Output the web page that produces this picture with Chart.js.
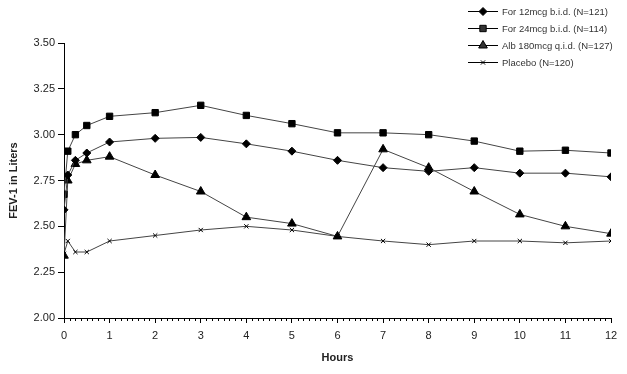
<!DOCTYPE html>
<html>
<head>
<meta charset="utf-8">
<script src="https://cdn.jsdelivr.net/npm/chart.js@4.4.0/dist/chart.umd.min.js"></script>
<style>
  html, body { margin: 0; padding: 0; background: #fff; }
  #wrap { width: 627px; height: 374px; position: relative; }
</style>
</head>
<body>
<div id="wrap"><canvas id="chart"></canvas></div>
<script>
// data
const hours = [0, 0.083, 0.25, 0.5, 1, 2, 3, 4, 5, 6, 7, 8, 9, 10, 11, 12];
const for12 = [2.59, 2.78, 2.86, 2.90, 2.96, 2.98, 2.985, 2.95, 2.91, 2.86, 2.82, 2.80, 2.82, 2.79, 2.79, 2.77];
const for24 = [2.675, 2.91, 3.00, 3.05, 3.10, 3.12, 3.16, 3.105, 3.06, 3.01, 3.01, 3.00, 2.965, 2.91, 2.915, 2.90];
const alb = [2.34, 2.75, 2.84, 2.86, 2.88, 2.78, 2.69, 2.55, 2.515, 2.445, 2.92, 2.82, 2.69, 2.565, 2.50, 2.46];
const placebo = [2.35, 2.42, 2.36, 2.36, 2.42, 2.45, 2.48, 2.50, 2.48, 2.445, 2.42, 2.40, 2.42, 2.42, 2.41, 2.42];

const labels = [
  "For 12mcg b.i.d. (N=121)",
  "For 24mcg b.i.d. (N=114)",
  "Alb 180mcg q.i.d. (N=127)",
  "Placebo (N=120)",
];

const FONT = "'Liberation Sans', Arial, sans-serif";

function pts(ys) {
  return hours.map((h, i) => ({ x: h, y: ys[i] }));
}

function series(label, ys, style, radius) {
  return {
    label: label,
    data: pts(ys),
    borderColor: "#444",
    borderWidth: 1,
    backgroundColor: "#000",
    pointBorderColor: "#000",
    pointBackgroundColor: "#000",
    pointStyle: style,
    pointRadius: radius,
    pointBorderWidth: 1,
    tension: 0,
  };
}

// minor ticks under the x axis
const minorTicks = {
  id: "minorTicks",
  afterDraw(chart) {
    const x = chart.scales.x;
    const ctx = chart.ctx;
    ctx.save();
    ctx.strokeStyle = "#000";
    ctx.lineWidth = 1;
    for (let v = 0; v <= 12; v += 0.125) {
      if (Math.abs(v - Math.round(v)) < 1e-6) continue;
      const px = Math.round(x.getPixelForValue(v)) + 0.5;
      ctx.beginPath();
      ctx.moveTo(px, x.top);
      ctx.lineTo(px, x.top + 3);
      ctx.stroke();
    }
    ctx.restore();
  },
};

// legend with line + marker, top right
const lineLegend = {
  id: "lineLegend",
  afterDraw(chart) {
    const ctx = chart.ctx;
    const x0 = 468, x1 = 498, y0 = 11, dy = 17;
    ctx.save();
    chart.data.datasets.forEach((ds, i) => {
      const y = y0 + i * dy;
      ctx.strokeStyle = "#000";
      ctx.lineWidth = 1;
      ctx.beginPath();
      ctx.moveTo(x0, y + 0.5);
      ctx.lineTo(x1, y + 0.5);
      ctx.stroke();
      Chart.helpers.drawPoint(ctx, {
        pointStyle: ds.pointStyle,
        radius: ds.pointRadius,
        rotation: 0,
        borderWidth: 1,
      }, (x0 + x1) / 2, y + 0.5);
      ctx.fillStyle = "#333";
      ctx.font = "9.5px " + FONT;
      ctx.textBaseline = "middle";
      ctx.fillText(ds.label, x1 + 4, y + 1);
    });
    ctx.restore();
  },
};

new Chart(document.getElementById("chart"), {
  type: "line",
  data: {
    datasets: [
      series(labels[0], for12, "rectRot", 4),
      series(labels[1], for24, "rect", 4.5),
      series(labels[2], alb, "triangle", 5),
      series(labels[3], placebo, "crossRot", 3),
    ],
  },
  options: {
    responsive: true,
    maintainAspectRatio: false,
    animation: false,
    layout: { padding: { top: 43, right: 16, left: 0, bottom: 0 } },
    plugins: {
      legend: { display: false },
      tooltip: { enabled: false },
    },
    scales: {
      x: {
        type: "linear",
        min: 0,
        max: 12,
        afterFit: function (scale) {
          scale.height = 56;
        },
        ticks: {
          stepSize: 1,
          color: "#222",
          padding: 6,
          font: { family: FONT, size: 11 },
          maxRotation: 0,
        },
        grid: {
          drawOnChartArea: false,
          drawTicks: true,
          tickLength: 5,
          color: "#000",
        },
        border: { color: "#000", width: 1 },
        title: {
          display: true,
          text: "Hours",
          color: "#222",
          font: { family: FONT, size: 11, weight: "bold" },
          padding: { top: 0, bottom: 9 },
        },
      },
      y: {
        min: 2,
        max: 3.5,
        afterFit: function (scale) {
          scale.width = 64;
        },
        ticks: {
          stepSize: 0.25,
          color: "#222",
          padding: 3,
          font: { family: FONT, size: 11 },
          callback: function (value) {
            return value.toFixed(2);
          },
        },
        grid: {
          drawOnChartArea: false,
          drawTicks: true,
          tickLength: 6,
          color: "#000",
        },
        border: { color: "#000", width: 1 },
        title: {
          display: true,
          text: "FEV-1 in Liters",
          color: "#222",
          font: { family: FONT, size: 11, weight: "bold" },
          padding: { top: 7, bottom: 0 },
        },
      },
    },
  },
  plugins: [minorTicks, lineLegend],
});
</script>
</body>
</html>
